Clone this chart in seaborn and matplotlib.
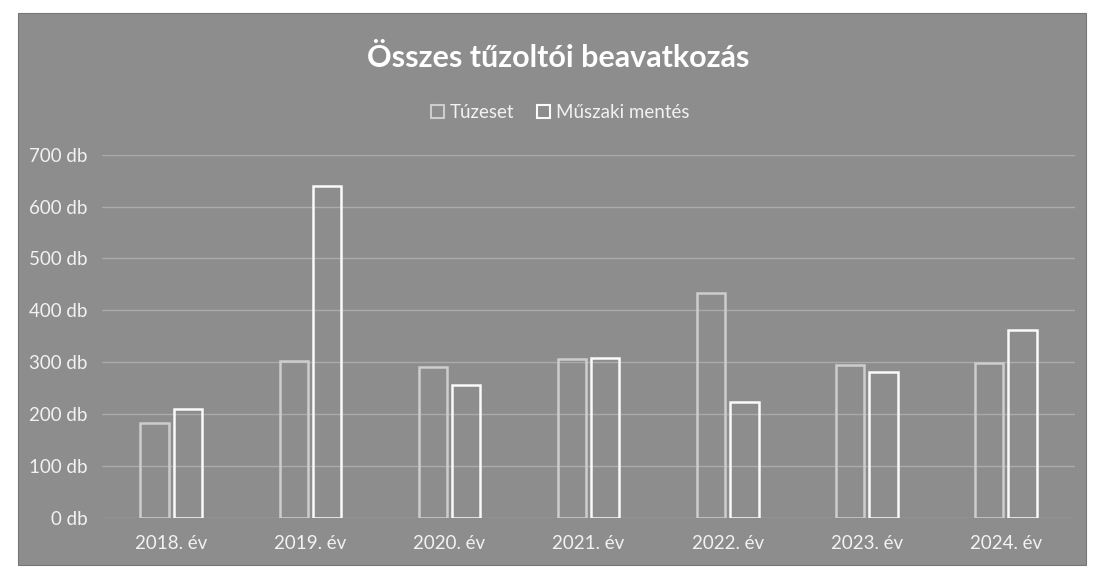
'''
Összes tűzoltói beavatkozás - outline bar chart
'''
import pandas as pd
import matplotlib
matplotlib.use('Agg')
import matplotlib.pyplot as plt
from matplotlib.patches import Rectangle
import seaborn as sns

# Data
years = ['2018. év', '2019. év', '2020. év', '2021. év', '2022. év', '2023. év', '2024. év']
tuzeset = [183, 302, 292, 306, 433, 294, 298]
muszaki = [210, 640, 257, 308, 224, 281, 363]
series_names = ['Túzeset', 'Műszaki mentés']
y_ticks = [0, 100, 200, 300, 400, 500, 600, 700]

df = pd.DataFrame({
    'Év': years * 2,
    'Érték': tuzeset + muszaki,
    'Sorozat': [series_names[0]] * len(years) + [series_names[1]] * len(years),
})

bg = '#8d8d8d'
txt = '#f2f2f2'

sns.set_style('white')
plt.rcParams['font.family'] = ['Lato', 'DejaVu Sans']

fig = plt.figure(figsize=(10.94, 5.77), dpi=100, facecolor='white')
# grey chart area inside the white scan margin (drawn beneath the axes)
fig.patches.append(Rectangle((18 / 1094, 12 / 577), 1068 / 1094, 552 / 577,
                             transform=fig.transFigure, facecolor=bg,
                             edgecolor='#777777', lw=0.8, zorder=-5))

ax = fig.add_axes([0.093, 0.102, 0.890, 0.630])
ax.set_facecolor('none')

sns.barplot(data=df, x='Év', y='Érték', hue='Sorozat', ax=ax,
            palette={series_names[0]: '#cdcdcd', series_names[1]: '#fafafa'},
            fill=False, width=0.48, gap=0.15, linewidth=1.8, legend=False)

ax.set_ylim(0, 700)
ax.set_yticks(y_ticks)
ax.set_yticklabels([f'{v} db' for v in y_ticks])
ax.grid(axis='y', color='#ababab', lw=1.0)
ax.set_axisbelow(True)
for s in ax.spines.values():
    s.set_visible(False)
ax.tick_params(axis='both', length=0, colors=txt, labelsize=13.5)
ax.tick_params(axis='x', pad=12)
ax.tick_params(axis='y', pad=10)
ax.set_xlabel('')
ax.set_ylabel('')

# legend with hollow squares
handles = [Rectangle((0, 0), 1, 1, facecolor='none', edgecolor=c, lw=1.5)
           for c in ['#cdcdcd', '#fafafa']]
fig.legend(handles, series_names, loc='center', bbox_to_anchor=(0.512, 0.805),
           ncol=2, frameon=False, fontsize=13.5, labelcolor=txt,
           handlelength=0.7, handleheight=0.7, handletextpad=0.3, columnspacing=1.2)

fig.text(0.51, 0.90, 'Összes tűzoltói beavatkozás', ha='center', va='center',
         fontsize=22, fontweight='bold', color='white')

plt.savefig('out.png', dpi=100, facecolor='white')
plt.close()
